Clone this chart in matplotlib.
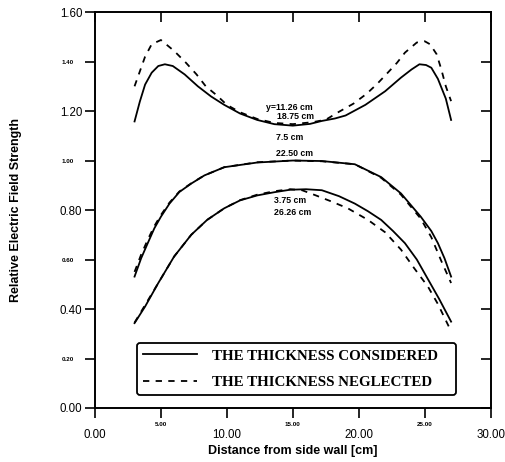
import matplotlib
matplotlib.use("Agg")
from matplotlib import pyplot as plt
from matplotlib.ticker import FixedLocator

# y = 11.25 / 18.75 cm
top_x_solid = [3.0, 3.4, 3.8, 4.3, 4.8, 5.3, 5.9, 6.8, 7.8, 8.8, 9.8, 11.0, 12.3, 13.6, 15.0,
               16.3, 17.2, 18.2, 19.0, 20.5, 22.0, 23.2, 24.0, 24.6, 25.1, 25.5, 26.0, 26.6, 27.0]
top_y_solid = [1.158, 1.238, 1.307, 1.355, 1.382, 1.389, 1.382, 1.348, 1.300, 1.259, 1.225, 1.190, 1.164, 1.147, 1.141,
               1.148, 1.160, 1.170, 1.182, 1.225, 1.280, 1.335, 1.368, 1.389, 1.386, 1.375, 1.330, 1.250, 1.164]
top_x_dash = [3.0, 3.4, 3.8, 4.3, 5.0, 6.0, 6.9, 7.7, 8.4, 9.2, 10.0, 11.0, 12.3, 13.6, 15.0,
              16.5, 17.5, 18.5, 19.6, 20.6, 21.4, 22.2, 22.9, 23.5, 24.4, 25.0, 25.4, 25.9, 26.25, 26.6, 27.0]
top_y_dash = [1.300, 1.360, 1.420, 1.470, 1.487, 1.443, 1.395, 1.348, 1.300, 1.265, 1.225, 1.195, 1.168, 1.152, 1.147,
              1.155, 1.165, 1.197, 1.230, 1.270, 1.310, 1.355, 1.395, 1.436, 1.477, 1.482, 1.470, 1.430, 1.370, 1.300, 1.240]

# y = 7.5 / 22.5 cm
mid_x_solid = [3.0, 3.5, 4.0, 4.5, 5.0, 5.65, 6.4, 7.3, 8.3, 9.8, 12.3, 15.0, 17.2, 19.7, 21.7, 23.2, 24.7, 25.5, 26.0, 26.5, 27.0]
mid_y_solid = [0.531, 0.605, 0.666, 0.726, 0.773, 0.826, 0.873, 0.907, 0.940, 0.973, 0.992, 1.000, 0.998, 0.985, 0.933, 0.867,
               0.773, 0.715, 0.666, 0.605, 0.531]
mid_x_dash = [3.0, 3.5, 4.0, 4.5, 5.0, 5.65, 6.4, 7.3, 8.3, 9.8, 12.3, 15.0, 17.2, 19.7, 21.7, 23.2, 24.7, 25.5, 26.25, 27.0]
mid_y_dash = [0.550, 0.620, 0.680, 0.735, 0.780, 0.830, 0.875, 0.908, 0.940, 0.973, 0.993, 1.000, 0.997, 0.985, 0.930, 0.862,
              0.765, 0.690, 0.595, 0.505]

# y = 3.75 / 26.25 cm
bot_x_solid = [3.0, 3.8, 4.8, 6.0, 7.3, 8.5, 9.8, 11.0, 12.3, 13.6, 14.8, 16.0, 17.2, 18.5, 19.7, 20.7, 21.7, 22.6, 23.5,
               24.4, 25.25, 26.1, 27.0]
bot_y_solid = [0.343, 0.410, 0.505, 0.612, 0.700, 0.760, 0.807, 0.839, 0.859, 0.872, 0.882, 0.884, 0.880, 0.856, 0.826,
               0.795, 0.760, 0.715, 0.666, 0.600, 0.520, 0.440, 0.349]
bot_x_dash = [3.0, 4.8, 6.0, 7.3, 8.5, 9.8, 11.0, 12.3, 13.6, 14.8, 15.7, 16.7, 18.0, 19.2, 20.7, 22.0, 23.2, 24.2, 25.25,
              26.0, 27.0]
bot_y_dash = [0.345, 0.505, 0.612, 0.700, 0.760, 0.807, 0.840, 0.862, 0.876, 0.884, 0.880, 0.860, 0.833, 0.806, 0.760,
              0.710, 0.640, 0.565, 0.490, 0.420, 0.310]

curve_labels = [("y=11.26 cm", 12.96, 1.213), ("18.75 cm", 13.8, 1.177),
                ("7.5 cm", 13.7, 1.094), ("22.50 cm", 13.7, 1.030),
                ("3.75 cm", 13.56, 0.840), ("26.26 cm", 13.56, 0.792)]

x_major = [0, 10, 20, 30]
x_minor = [5, 15, 25]
y_major = [0.0, 0.4, 0.8, 1.2, 1.6]
y_minor = [0.2, 0.6, 1.0, 1.4]

legend_labels = ["THE THICKNESS CONSIDERED", "THE THICKNESS NEGLECTED"]


def main() -> None:
    plt.rcParams["font.family"] = ["Liberation Sans", "DejaVu Sans"]
    fig = plt.figure(figsize=(5.06, 4.62), dpi=100)
    ax = fig.add_axes([0.1877, 0.1169, 0.782, 0.857])

    dash = (0, (3.5, 3.5))
    l1, = ax.plot(top_x_solid, top_y_solid, color="black", lw=1.3)
    l2, = ax.plot(top_x_dash, top_y_dash, color="black", lw=1.3, linestyle=dash)
    ax.plot(mid_x_solid, mid_y_solid, color="black", lw=1.3)
    ax.plot(mid_x_dash, mid_y_dash, color="black", lw=1.3, linestyle=dash)
    ax.plot(bot_x_solid, bot_y_solid, color="black", lw=1.3)
    ax.plot(bot_x_dash, bot_y_dash, color="black", lw=1.3, linestyle=dash)

    for txt, x, y in curve_labels:
        ax.text(x, y, txt, fontsize=6.3, fontweight="bold", ha="left", va="center")

    ax.set_xlim(0, 30)
    ax.set_ylim(0, 1.6)

    # big labels on major ticks, tiny labels on minor ticks (as in the scan)
    ax.xaxis.set_major_locator(FixedLocator(x_major))
    ax.xaxis.set_minor_locator(FixedLocator(x_minor))
    ax.set_xticklabels([f"{v:.2f}" for v in x_major])
    ax.set_xticklabels([f"{v:.2f}" for v in x_minor], minor=True)
    ax.yaxis.set_major_locator(FixedLocator(y_major))
    ax.yaxis.set_minor_locator(FixedLocator(y_minor))
    ax.set_yticklabels([f"{v:.2f}" for v in y_major])
    ax.set_yticklabels([f"{v:.2f}" for v in y_minor], minor=True)

    ax.tick_params(axis="both", which="both", length=7, width=1.2,
                   top=True, right=True, direction="out")
    ax.tick_params(axis="both", which="major", labelsize=8.3)
    ax.tick_params(axis="both", which="minor", labelsize=4.5)
    ax.tick_params(axis="x", which="major", pad=8)
    ax.tick_params(axis="x", which="minor", pad=3)
    ax.tick_params(axis="y", which="major", pad=2)
    ax.tick_params(axis="y", which="minor", pad=8)
    for lab in ax.get_xticklabels(minor=True) + ax.get_yticklabels(minor=True):
        lab.set_fontweight("bold")
    # top and right ticks point inward
    for t in ax.xaxis.get_major_ticks() + ax.xaxis.get_minor_ticks():
        t.tick2line.set_marker(3)
    for t in ax.yaxis.get_major_ticks() + ax.yaxis.get_minor_ticks():
        t.tick2line.set_marker(0)

    for sp in ax.spines.values():
        sp.set_linewidth(1.4)

    ax.set_xlabel("Distance from side wall [cm]", fontsize=9, fontweight="bold", labelpad=3)
    ax.set_ylabel("Relative Electric Field Strength", fontsize=9, fontweight="bold", labelpad=27)

    leg = ax.legend([l1, l2], legend_labels, loc="center", mode="expand",
                    bbox_to_anchor=(0.105, 0.02, 0.807, 0.157), borderaxespad=0,
                    handlelength=3.6, handletextpad=1.0, labelspacing=0.85,
                    prop={"family": "Liberation Serif", "size": 10.8, "weight": "bold"},
                    fancybox=True, framealpha=1, edgecolor="black")
    leg.get_frame().set_linewidth(1.3)

    fig.savefig("out.png", dpi=100)
    plt.close(fig)


if __name__ == "__main__":
    main()
